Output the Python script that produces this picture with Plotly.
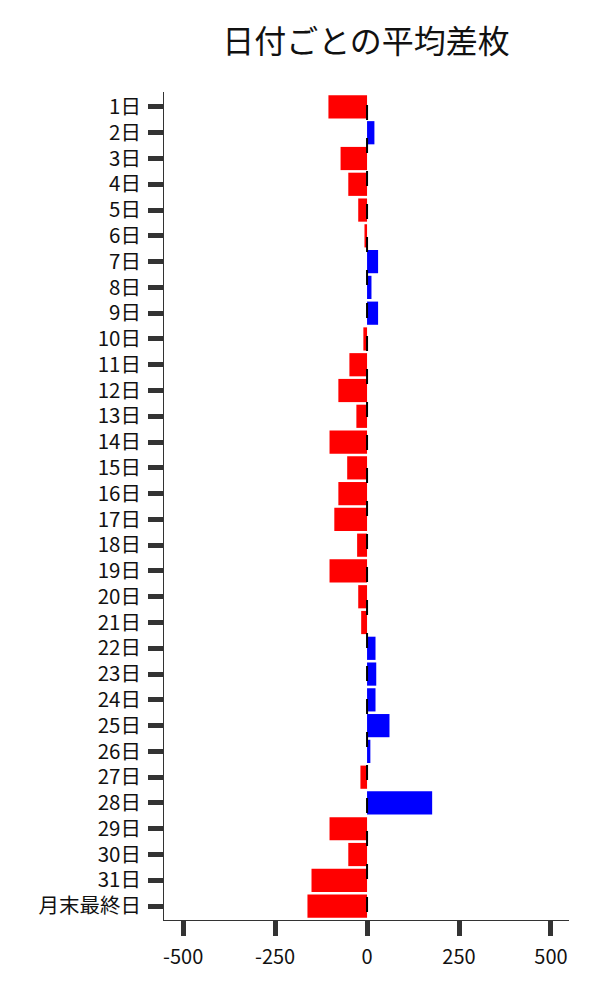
import plotly.graph_objects as go

categories = [f"{i}日" for i in range(1, 32)] + ["月末最終日"]
values = [-105, 20, -72, -51, -24, -7, 30, 12, 30, -10,
          -48, -78, -29, -102, -54, -78, -89, -27, -102, -24,
          -16, 23, 25, 23, 61, 9, -18, 177, -102, -51,
          -151, -162]
colors = ["blue" if v > 0 else "red" for v in values]
x_ticks = [-500, -250, 0, 250, 500]

font_family = "Noto Sans CJK JP"

fig = go.Figure()
fig.add_trace(go.Bar(
    x=values, y=categories, orientation="h",
    marker=dict(color=colors, line=dict(width=0)),
    showlegend=False,
))

fig.add_shape(type="line", xref="x", yref="y",
              x0=0, x1=0, y0=-0.08, y1=31.5,
              line=dict(color="black", width=2, dash="15px,18px"),
              layer="above")

fig.update_layout(
    width=600, height=1000,
    margin=dict(l=156, r=39, t=84, b=88, autoexpand=False),
    paper_bgcolor="white", plot_bgcolor="white",
    bargap=0.1,
    font=dict(family=font_family, size=20, color="#111"),
    title=dict(text="日付ごとの平均差枚", x=358 / 600, xanchor="center",
               y=1 - 34 / 1000, yanchor="middle",
               font=dict(family=font_family, size=32, color="#111")),
)
fig.update_xaxes(
    range=[-552, 549], tickvals=x_ticks, ticktext=[str(v) for v in x_ticks],
    showgrid=False, zeroline=False,
    showline=True, linecolor="#333", linewidth=1,
    ticks="outside", ticklen=15, tickwidth=5, tickcolor="#333",
    tickfont=dict(size=20), automargin=False, ticklabelstandoff=4,
)
fig.update_yaxes(
    categoryorder="array", categoryarray=categories,
    range=[31.54, -0.58],
    showgrid=False, zeroline=False,
    showline=True, linecolor="#333", linewidth=1,
    ticks="outside", ticklen=15, tickwidth=5, tickcolor="#333",
    tickfont=dict(size=20.5), automargin=False, ticklabelstandoff=3,
)

fig.write_html("out.html")
